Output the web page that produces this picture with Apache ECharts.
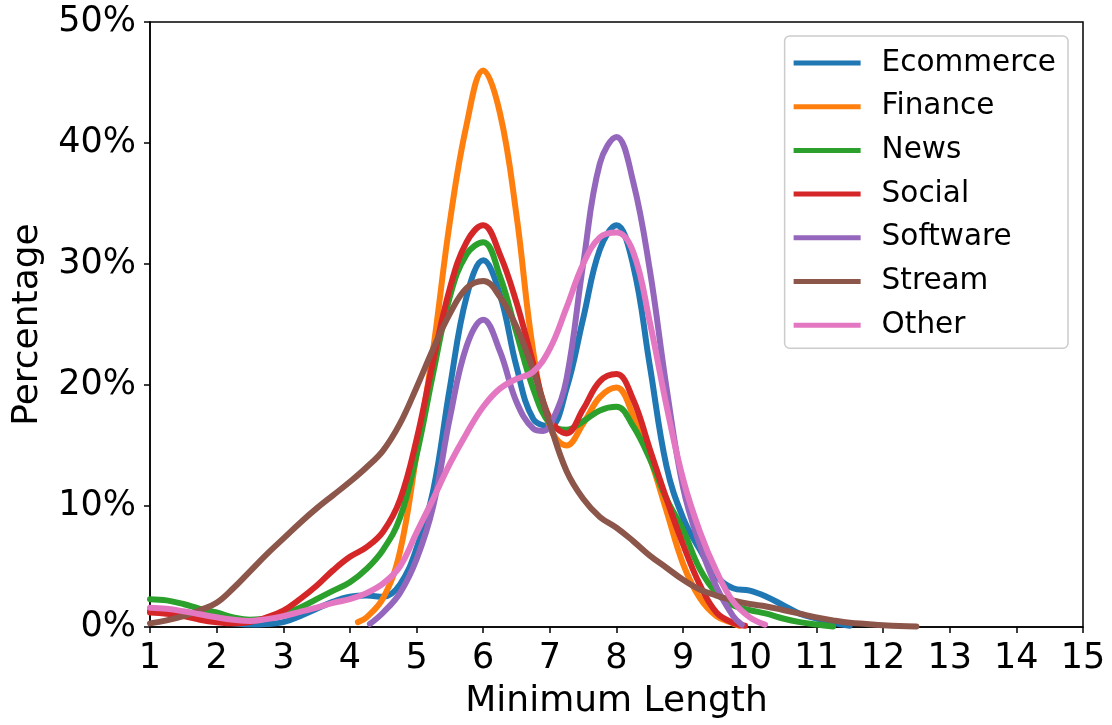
<!DOCTYPE html>
<html>
<head>
<meta charset="utf-8">
<script src="https://cdn.jsdelivr.net/npm/echarts@6/dist/echarts.min.js"></script>
<style>
html,body{margin:0;padding:0;background:#fff;}
#chart{width:1112px;height:725px;}
</style>
</head>
<body>
<div id="chart"></div>
<script>
// Category names
var seriesNames = ['Ecommerce', 'Finance', 'News', 'Social', 'Software', 'Stream', 'Other'];
var seriesColors = ['#1f77b4', '#ff7f0e', '#2ca02c', '#d62728', '#9467bd', '#8c564b', '#e377c2'];

// X tick values and Y tick values (percent)
var xTicks = [1,2,3,4,5,6,7,8,9,10,11,12,13,14,15];
var yTicks = [0,10,20,30,40,50];

// Series values: [minimum length, percentage]
var ecommerce = [[1,1.4],[1.25,1.2],[1.5,1.0],[1.75,0.7],[2,0.5],[2.25,0.3],[2.5,0.2],[2.75,0.25],[3,0.4],[3.25,0.9],[3.5,1.5],[3.75,2.1],[4,2.5],[4.25,2.6],[4.5,2.5],[4.75,3.5],[5,6.5],[5.25,11.3],[5.5,19.8],[5.75,27.3],[6,30.3],[6.25,27.5],[6.5,21.5],[6.75,17.2],[7,16.6],[7.25,19.7],[7.5,25.5],[7.75,31.2],[8,33.2],[8.25,29.9],[8.5,21.6],[8.75,13.3],[9,9.0],[9.25,6.4],[9.5,4.2],[9.75,3.2],[10,3.0],[10.25,2.5],[10.5,1.8],[10.75,1.1],[11,0.7],[11.25,0.35],[11.5,0.1]];
var finance = [[4.12,0.4],[4.25,0.8],[4.5,2.4],[4.75,6.2],[5,14.3],[5.25,23.0],[5.5,33.5],[5.75,41.5],[6,46.0],[6.25,42.5],[6.5,34.0],[6.75,22.8],[7,16.5],[7.25,15.0],[7.5,16.8],[7.75,19.0],[8,19.8],[8.25,17.5],[8.5,14.0],[8.75,9.6],[9,5.2],[9.25,2.4],[9.5,0.9],[9.75,0.3],[9.85,0.1]];
var news = [[1,2.3],[1.25,2.2],[1.5,1.9],[1.75,1.5],[2,1.2],[2.25,0.8],[2.5,0.6],[2.75,0.7],[3,1.1],[3.25,1.6],[3.5,2.3],[3.75,3.0],[4,3.7],[4.25,4.8],[4.5,6.4],[4.75,9.0],[5,14.2],[5.25,21.0],[5.5,27.3],[5.75,30.8],[6,31.8],[6.25,29.0],[6.5,24.3],[6.75,19.7],[7,16.8],[7.25,16.3],[7.5,17.0],[7.75,17.9],[8,18.2],[8.25,16.6],[8.5,13.9],[8.75,10.6],[9,8.0],[9.25,4.8],[9.5,2.8],[9.75,1.8],[10,1.4],[10.25,1.1],[10.5,0.7],[10.75,0.4],[11,0.2],[11.25,0.05]];
var social = [[1,1.2],[1.25,1.1],[1.5,0.9],[1.75,0.6],[2,0.4],[2.25,0.3],[2.5,0.4],[2.75,0.8],[3,1.35],[3.25,2.3],[3.5,3.4],[3.75,4.7],[4,5.8],[4.25,6.6],[4.5,7.9],[4.75,10.5],[5,15.5],[5.25,22.0],[5.5,28.0],[5.75,31.8],[6,33.2],[6.25,30.8],[6.5,26.8],[6.75,21.8],[7,17.2],[7.25,16.0],[7.5,18.0],[7.75,20.3],[8,20.9],[8.25,18.8],[8.5,14.7],[8.75,10.6],[9,6.8],[9.25,3.5],[9.5,1.2],[9.75,0.35],[9.93,0.1]];
var software = [[4.3,0.25],[4.5,1.2],[4.75,2.8],[5,5.6],[5.25,10.0],[5.5,17.3],[5.75,23.2],[6,25.4],[6.25,22.8],[6.5,18.6],[6.75,16.4],[6.9,16.2],[7.05,17.2],[7.25,20.5],[7.5,30.0],[7.75,38.3],[8,40.5],[8.25,36.8],[8.5,29.5],[8.75,19.8],[9,11.5],[9.25,6.8],[9.5,3.3],[9.75,0.9],[9.88,0.2]];
var stream = [[1,0.3],[1.25,0.55],[1.5,0.9],[1.75,1.4],[2,2.0],[2.25,3.2],[2.5,4.6],[2.75,6.0],[3,7.3],[3.25,8.6],[3.5,9.8],[3.75,10.9],[4,12.0],[4.25,13.2],[4.5,14.6],[4.75,16.8],[5,19.8],[5.25,23.0],[5.5,25.9],[5.75,28.0],[6,28.6],[6.25,27.3],[6.5,24.8],[6.75,21.2],[7,16.8],[7.25,12.9],[7.5,10.6],[7.75,9.1],[8,8.2],[8.25,7.1],[8.5,5.9],[8.75,4.9],[9,3.9],[9.25,3.1],[9.5,2.6],[9.75,2.2],[10,1.9],[10.25,1.7],[10.5,1.4],[10.75,1.1],[11,0.8],[11.25,0.55],[11.5,0.35],[11.75,0.25],[12,0.15],[12.25,0.08],[12.5,0.05]];
var other = [[1,1.6],[1.25,1.5],[1.5,1.3],[1.75,1.05],[2,0.8],[2.25,0.6],[2.5,0.5],[2.75,0.65],[3,0.9],[3.25,1.25],[3.5,1.6],[3.75,2.0],[4,2.3],[4.25,2.8],[4.5,3.6],[4.75,5.0],[5,7.8],[5.25,10.6],[5.5,13.5],[5.75,16.0],[6,18.2],[6.25,19.7],[6.5,20.5],[6.75,21.1],[7,23.0],[7.25,26.4],[7.5,30.0],[7.75,32.2],[8,32.6],[8.25,31.0],[8.5,25.2],[8.75,18.3],[9,12.2],[9.25,7.9],[9.5,4.6],[9.75,2.1],[10,0.8],[10.23,0.2]];

var seriesData = [ecommerce, finance, news, social, software, stream, other];

var FONT = 'DejaVu Sans';
var chart = echarts.init(document.getElementById('chart'), null, {renderer: 'canvas'});

var series = seriesNames.map(function (name, i) {
  return {
    name: name,
    type: 'line',
    data: seriesData[i],
    smooth: 0.4,
    showSymbol: false,
    symbol: 'none',
    clip: true,
    lineStyle: {width: 6, color: seriesColors[i], cap: 'round', join: 'round'},
    itemStyle: {color: seriesColors[i]},
    emphasis: {disabled: true},
    animation: false
  };
});

chart.setOption({
  animation: false,
  backgroundColor: '#ffffff',
  grid: {
    left: 150, right: 29, top: 22, bottom: 97,
    show: true, borderColor: '#000', borderWidth: 1.5, backgroundColor: 'transparent'
  },
  legend: {
    show: true,
    orient: 'vertical',
    right: 44,
    top: 36,
    icon: 'rect',
    itemWidth: 67,
    itemHeight: 5,
    itemGap: 13.7,
    padding: [12, 12, 8, 9],
    borderColor: '#cccccc',
    borderWidth: 1.5,
    borderRadius: 5,
    backgroundColor: 'rgba(255,255,255,0.8)',
    data: seriesNames,
    textStyle: {fontFamily: FONT, fontSize: 29.5, color: '#000', lineHeight: 30, padding: [0, 0, 0, 16]}
  },
  xAxis: {
    type: 'value',
    min: xTicks[0],
    max: xTicks[xTicks.length - 1],
    interval: 1,
    name: 'Minimum Length',
    nameLocation: 'middle',
    nameGap: 57,
    nameTextStyle: {fontFamily: FONT, fontSize: 36, color: '#000'},
    axisLine: {show: true, onZero: false, lineStyle: {color: '#000', width: 1.5}},
    axisTick: {show: true, inside: false, length: 6, lineStyle: {color: '#000', width: 1.5}},
    axisLabel: {fontFamily: FONT, fontSize: 35, color: '#000', margin: 14},
    splitLine: {show: false}
  },
  yAxis: {
    type: 'value',
    min: yTicks[0],
    max: yTicks[yTicks.length - 1],
    interval: 10,
    name: 'Percentage',
    nameLocation: 'middle',
    nameGap: 104,
    nameTextStyle: {fontFamily: FONT, fontSize: 36, color: '#000'},
    axisLine: {show: true, lineStyle: {color: '#000', width: 1.5}},
    axisTick: {show: true, inside: false, length: 6, lineStyle: {color: '#000', width: 1.5}},
    axisLabel: {fontFamily: FONT, fontSize: 35, color: '#000', margin: 14, formatter: '{value}%'},
    splitLine: {show: false}
  },
  series: series
});
</script>
</body>
</html>
